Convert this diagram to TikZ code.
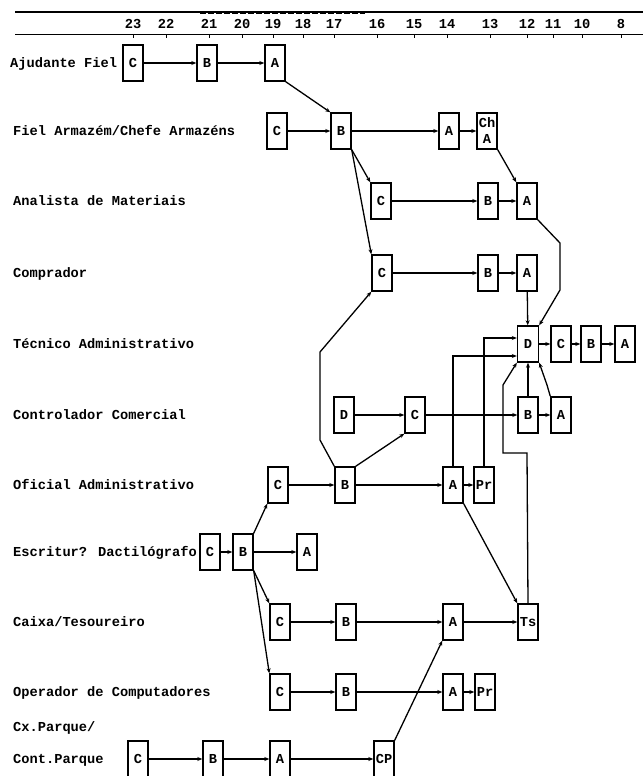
\documentclass[tikz,border=0pt]{standalone}
\usepackage{fontspec}
\setmainfont{Liberation Mono}
\usetikzlibrary{arrows.meta}
\begin{document}
\begin{tikzpicture}[x=1pt,y=-1pt,
  every node/.style={font=\fontsize{13.7}{16}\selectfont\bfseries},
  box/.style={draw, line width=1.4pt, minimum width=20pt, minimum height=36pt, inner sep=0pt},
  lbl/.style={anchor=base west, inner sep=0pt},
  num/.style={inner sep=0pt, anchor=base},
  link/.style={line width=1.3pt, -{Stealth[length=5pt,width=4pt]}}]
\useasboundingbox (0,0) rectangle (643,776);

% time scale
\draw[line width=1.8pt] (15,12) -- (643,12);
\draw[line width=1pt, dash pattern=on 6pt off 2pt] (200,13.2) -- (365,13.2);
\draw[line width=1pt] (15,35) -- (643,35);
\foreach \x/\n in {133/23,166/22,209/21,242/20,273/19,303/18,334/17,377/16,414/15,447/14,490/13,527/12,553/11,582/10,621/8}{
  \node[num] (t\n) at (\x,29) {\n};
  \draw[line width=0.8pt] (\x,35) -- (\x,38);
}

% row labels
\node[lbl] (r1) at (10,67.5) {Ajudante Fiel};
\node[lbl] (r2) at (13,135.5) {Fiel Armazém/Chefe Armazéns};
\node[lbl] (r3) at (13,205.5) {Analista de Materiais};
\node[lbl] (r4) at (13,277.5) {Comprador};
\node[lbl] (r5) at (13,348.5) {Técnico Administrativo};
\node[lbl] (r6) at (13,419.5) {Controlador Comercial};
\node[lbl] (r7) at (13,489.5) {Oficial Administrativo};
\node[lbl] (r8) at (13,556.5) {Escritur? Dactilógrafo};
\node[lbl] (r9) at (13,626.5) {Caixa/Tesoureiro};
\node[lbl] (r10) at (13,696.5) {Operador de Computadores};
\node[lbl] (r11a) at (13,731.5) {Cx.Parque/};
\node[lbl] (r11b) at (13,763.5) {Cont.Parque};

% stages
\node[box] (aC) at (133,63) {C};
\node[box] (aB) at (207,63) {B};
\node[box] (aA) at (275,63) {A};

\node[box] (fC) at (277,131) {C};
\node[box] (fB) at (341,131) {B};
\node[box] (fA) at (449,131) {A};
\node[box, align=center] (fCh) at (487,131) {Ch\\A};

\node[box] (mC) at (381,201) {C};
\node[box] (mB) at (488,201) {B};
\node[box] (mA) at (527,201) {A};

\node[box] (cC) at (382,273) {C};
\node[box] (cB) at (488,273) {B};
\node[box] (cA) at (527,273) {A};

\node[box, minimum width=21pt] (tD) at (528,344) {D};
\node[box] (tC) at (561,344) {C};
\node[box] (tB) at (591,344) {B};
\node[box] (tA) at (625,344) {A};

\node[box] (kD) at (344,415) {D};
\node[box] (kC) at (415,415) {C};
\node[box] (kB) at (528,415) {B};
\node[box] (kA) at (561,415) {A};

\node[box] (oC) at (278,485) {C};
\node[box] (oB) at (345,485) {B};
\node[box] (oA) at (453,485) {A};
\node[box] (oPr) at (484,485) {Pr};

\node[box] (eC) at (210,552) {C};
\node[box] (eB) at (243,552) {B};
\node[box] (eA) at (307,552) {A};

\node[box] (xC) at (280,622) {C};
\node[box] (xB) at (346,622) {B};
\node[box] (xA) at (453,622) {A};
\node[box] (xTs) at (528,622) {Ts};

\node[box] (pC) at (280,692) {C};
\node[box] (pB) at (346,692) {B};
\node[box] (pA) at (453,692) {A};
\node[box] (pPr) at (485,692) {Pr};

\node[box] (gC) at (138,759) {C};
\node[box] (gB) at (213,759) {B};
\node[box] (gA) at (280,759) {A};
\node[box] (gCP) at (384,759) {CP};

% routing points
\coordinate (m1) at (560,243);
\coordinate (m2) at (560,290);
\coordinate (k1) at (547,385);
\coordinate (o1) at (320,440);
\coordinate (o2) at (320,352);
\coordinate (s1) at (527,453);
\coordinate (s2) at (503,453);
\coordinate (s3) at (503,385);

% progression lines
\draw[link] (aC) -- (aB);
\draw[link] (aB) -- (aA);
\draw[link] (aA.south east) -- (fB.north west);

\draw[link] (fC) -- (fB);
\draw[link] (fB) -- (fA);
\draw[link] (fA) -- (fCh);
\draw[link] (fB.south east) -- (mC.north west);
\draw[link] (fB.south east) -- (cC.north west);
\draw[link] (fCh.south east) -- (mA.north west);

\draw[link] (mC) -- (mB);
\draw[link] (mB) -- (mA);
\draw[link] (mA.south east) -- (m1) -- (m2) -- (tD.north east);

\draw[link] (cC) -- (cB);
\draw[link] (cB) -- (cA);
\draw[link] (cA) -- (tD);

\draw[link] (tD) -- (tC);
\draw[link] (tC) -- (tB);
\draw[link] (tB) -- (tA);

\draw[link] (kD) -- (kC);
\draw[link] (kC) -- (kB);
\draw[link] (kB) -- (kA);
\draw[link] (kB) -- (tD);
\draw[link] (kA.north west) -- (k1) -- (tD.south east);

\draw[link] (oC) -- (oB);
\draw[link] (oB) -- (oA);
\draw[link] (oA) -- (oPr);
\draw[link] (oB.north east) -- (kC.south west);
\draw[link] (oB.north west) -- (o1) -- (o2) -- (cC.south west);
\draw[link] (oA.north) |- ([yshift=-12pt]tD.west);
\draw[link] (oPr.north) |- ([yshift=6pt]tD.west);
\draw[link] (oA.south east) -- (xTs.north west);

\draw[link] (eC) -- (eB);
\draw[link] (eB) -- (eA);
\draw[link] (eB.north east) -- (oC.south west);
\draw[link] (eB.south east) -- (xC.north west);
\draw[link] (eB.south east) -- (pC.north west);

\draw[link] (xC) -- (xB);
\draw[link] (xB) -- (xA);
\draw[link] (xA) -- (xTs);
\draw[link] (xTs.north) -- (s1) -- (s2) -- (s3) -- (tD.south west);

\draw[link] (pC) -- (pB);
\draw[link] (pB) -- (pA);
\draw[link] (pA) -- (pPr);

\draw[link] (gC) -- (gB);
\draw[link] (gB) -- (gA);
\draw[link] (gA) -- (gCP);
\draw[link] (gCP.north east) -- (xA.south west);
\end{tikzpicture}
\end{document}
